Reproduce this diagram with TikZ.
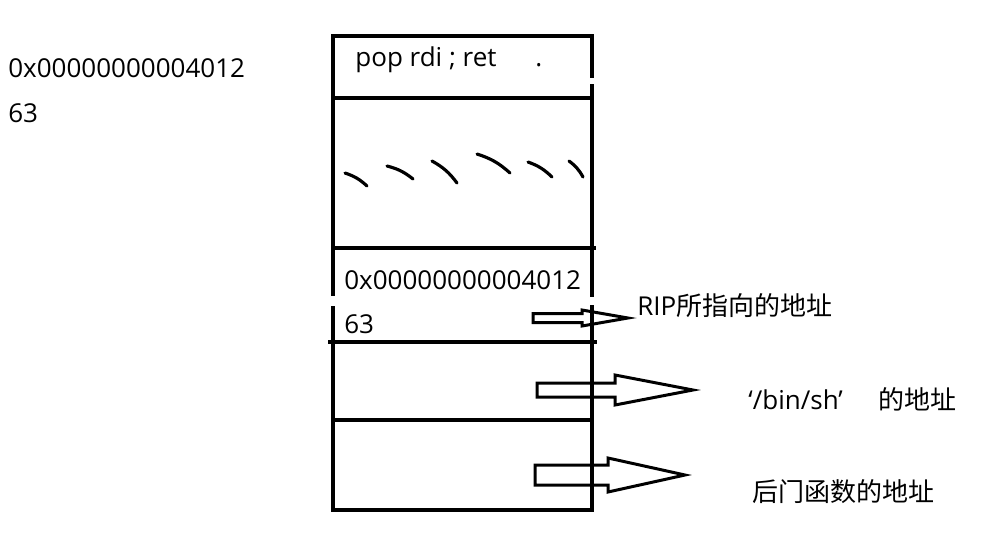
\documentclass[tikz,border=0pt]{standalone}
\usepackage{fontspec}
\setmainfont{Open Sans}
\newfontfamily\cjk{Noto Sans CJK SC}

\begin{document}
\begin{tikzpicture}[
    x=0.02cm, y=-0.02cm,
    txt/.style={font=\fontsize{14.8}{17}\selectfont, anchor=base west, inner sep=0pt},
    wall/.style={line width=2.3pt},
    squig/.style={line width=1.8pt, line cap=round},
    hollow/.style={line width=1.7pt, line join=miter},
]
\useasboundingbox (0,0) rectangle (997,538);

% ---- values on the left ----
\node[txt] (addrL) at (8,77) {0x00000000004012};
\node[txt] (numL)  at (8,122) {63};

% ---- stack frame ----
\draw[wall] (331,36) -- (594,36);
\draw[wall] (333,36) -- (333,296) (333,306) -- (333,511);
\draw[wall] (592,36) -- (592,78) (592,84) -- (592,297) (592,305) -- (592,511);
\draw[wall] (331,510) -- (594,510);
\draw[wall] (331,98) -- (594,98);
\draw[wall] (331,248) -- (596,248);
\draw[wall] (328,342) -- (597,342);
\draw[wall] (331,420) -- (594,420);

\node[txt] (gadget) at (355,66) {pop rdi ; ret};
\node[txt] (dot)    at (535,66) {.};

% ---- filler strokes ----
\foreach \ax/\ay/\bx/\by in {345/173/367/186, 387/166/413/179, 432/161/457/183,
                             477/154/510/173, 528/162/552/177, 569/161/583/177}
    \draw[squig] (\ax,\ay) to[bend left=12] (\bx,\by);

\node[txt] (addrR) at (344,289) {0x00000000004012};
\node[txt] (numR)  at (344,333) {63};

% ---- block arrows ----
\foreach \sx/\cy/\sh/\hx/\hh/\tx in {533/318/4.5/582/8/628,
                                     537/390/7/615/15/693,
                                     535/475/10/608/17/685}
    \draw[hollow] (\sx,{\cy-\sh}) -- (\hx,{\cy-\sh}) -- (\hx,{\cy-\hh}) -- (\tx,\cy)
        -- (\hx,{\cy+\hh}) -- (\hx,{\cy+\sh}) -- (\sx,{\cy+\sh}) -- cycle;

% ---- labels ----
\node[txt] (rip)  at (637,315) {RIP{\cjk 所指向的地址}};
\node[txt] (bin)  at (748,409) {‘/bin/sh’};
\node[txt] (binA) at (878,409) {\cjk 的地址};
\node[txt] (door) at (752,501) {\cjk 后门函数的地址};
\end{tikzpicture}
\end{document}
